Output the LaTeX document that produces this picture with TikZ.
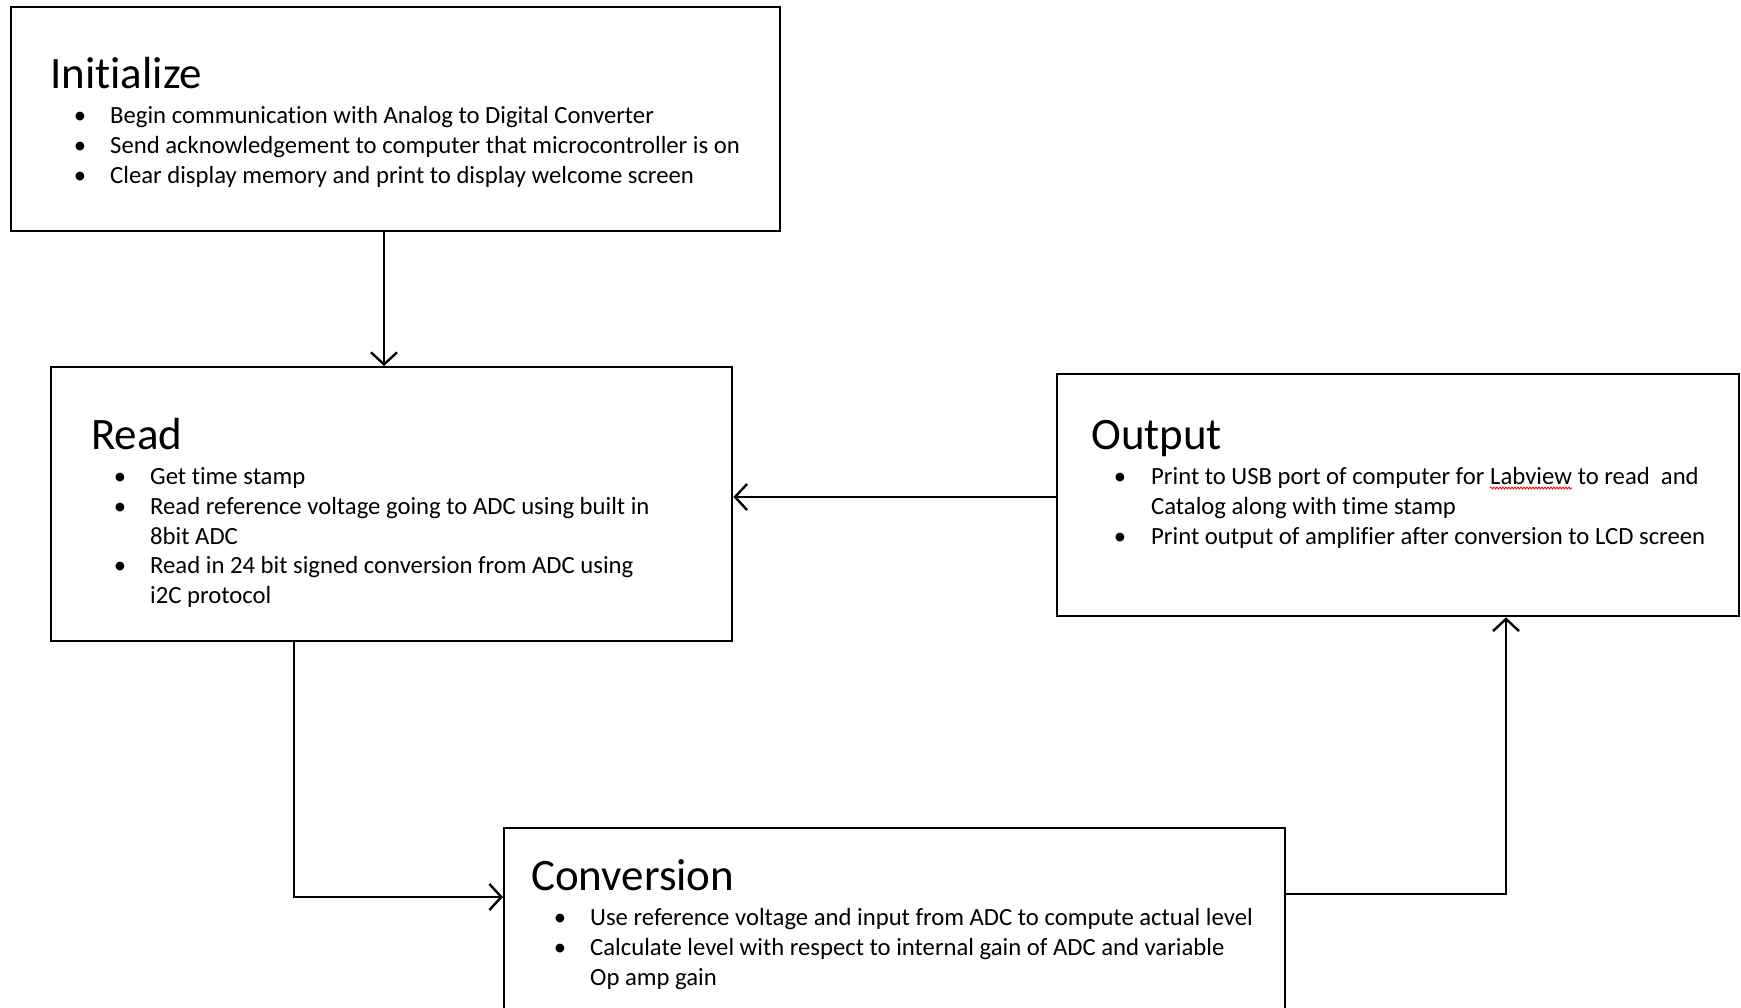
\documentclass[tikz,border=0pt]{standalone}
\usepackage{fontspec}
\setmainfont[RawFeature=-liga]{Carlito}
\usetikzlibrary{arrows.meta,decorations.pathmorphing}
\tikzset{
  box/.style={draw, line width=2.4pt, rectangle, anchor=north west, inner sep=0pt},
  ttl/.style={anchor=base west, inner sep=0pt, font=\fontsize{45}{45}\selectfont},
  txt/.style={anchor=base west, inner sep=0pt, font=\fontsize{24.7}{24.7}\selectfont},
  bul/.style={anchor=base, inner sep=0pt, font=\fontsize{24.7}{24.7}\selectfont},
  conn/.style={line width=2.4pt},
  arr/.style={conn, -{Straight Barb[length=12pt,width=26pt,line width=2.4pt]}},
  wavy/.style={draw=red, line width=0.8pt, decorate, decoration={snake, amplitude=1pt, segment length=3pt}}
}
\begin{document}
\begin{tikzpicture}[x=1pt,y=-1pt]
\useasboundingbox (0,0) rectangle (1741,1008);
\clip (0,0) rectangle (1741,1008);
% boxes
\node[box, minimum width=769pt, minimum height=224pt] (init) at (10,6) {};
\node[box, minimum width=681pt, minimum height=274pt] (read) at (50,366) {};
\node[box, minimum width=682pt, minimum height=242pt] (out) at (1056,373) {};
\node[box, minimum width=781pt, minimum height=240pt] (conv) at (503,827) {};
% Initialize
\node[ttl] (t1) at (50,89) {Initialize};
\node[bul] (b11) at (80,124) {•}; \node[txt] (l11) at (110,124) {Begin communication with Analog to Digital Converter};
\node[bul] (b12) at (80,154) {•}; \node[txt] (l12) at (110,154) {Send acknowledgement to computer that microcontroller is on};
\node[bul] (b13) at (80,184) {•}; \node[txt] (l13) at (110,184) {Clear display memory and print to display welcome screen};
% Read
\node[ttl] (t2) at (91,449) {Read};
\node[bul] (b21) at (120,484) {•}; \node[txt] (l21) at (150,484) {Get time stamp};
\node[bul] (b22) at (120,514) {•}; \node[txt] (l22) at (150,514) {Read reference voltage going to ADC using built in};
\node[txt] (l23) at (150,544) {8bit ADC};
\node[bul] (b24) at (120,573) {•}; \node[txt] (l24) at (150,573) {Read in 24 bit signed conversion from ADC using};
\node[txt] (l25) at (150,603) {i2C protocol};
% Output
\node[ttl] (t3) at (1091,449) {Output};
\node[bul] (b31) at (1120,484) {•};
\node[txt] (l31a) at (1151,484) {Print to USB port of computer for};
\node[txt] (l31b) at ([xshift=5.4pt]l31a.base east) {Labview};
\node[txt] (l31c) at ([xshift=5.4pt]l31b.base east) {to read\ \ and};
\draw[wavy] ([yshift=-4pt]l31b.base west) -- ([yshift=-4pt]l31b.base east);
\node[txt] (l32) at (1151,514) {Catalog along with time stamp};
\node[bul] (b33) at (1120,544) {•}; \node[txt] (l33) at (1151,544) {Print output of amplifier after conversion to LCD screen};
% Conversion
\node[ttl] (t4) at (531,890) {Conversion};
\node[bul] (b41) at (560,925) {•}; \node[txt] (l41) at (590,925) {Use reference voltage and input from ADC to compute actual level};
\node[bul] (b42) at (560,955) {•}; \node[txt] (l42) at (590,955) {Calculate level with respect to internal gain of ADC and variable};
\node[txt] (l43) at (590,985) {Op amp gain};
% connectors
\coordinate (xa) at (384,0);
\coordinate (xb) at (294,897);
\coordinate (xc) at (1506,894);
\coordinate (ya) at (0,497);
\draw[arr] (init.south -| xa) -- (read.north -| xa);
\draw[arr] (out.west |- ya) -- (read.east |- ya);
\draw[arr] (read.south -| xb) -- (xb) -- (conv.west |- xb);
\draw[arr] (conv.east |- xc) -- (xc) -- (out.south -| xc);
\end{tikzpicture}
\end{document}
